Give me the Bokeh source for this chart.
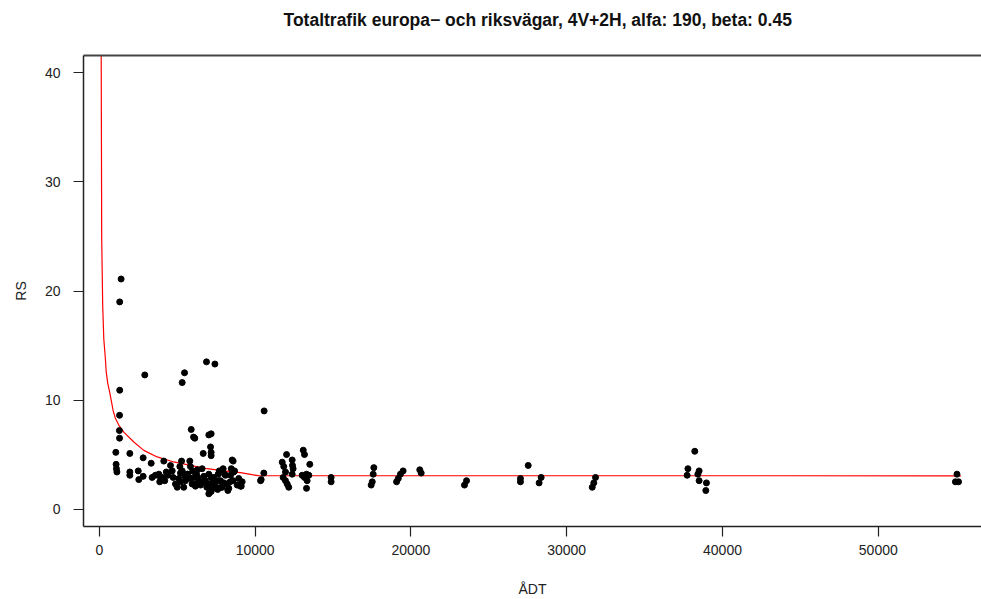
from bokeh.plotting import figure
from bokeh.models import Range1d, FixedTicker, LinearAxis, ColumnDataSource
from bokeh.embed import file_html
from bokeh.resources import INLINE

TITLE = "Totaltrafik europa\u2212 och riksvägar, 4V+2H, alfa: 190, beta: 0.45"
X_LABEL = "ÅDT"
Y_LABEL = "RS"
X_TICKS = [0, 10000, 20000, 30000, 40000, 50000]
Y_TICKS = [0, 10, 20, 30, 40]

# observed road sections (ÅDT, RS)
ADT = [1400, 1310, 1310, 1300, 1290, 1300, 1060, 1080, 1100, 1130,
       2920, 5320, 5470, 6880, 7420, 5900, 6050, 6130, 7030, 7180, 7140, 7180, 7180, 6670, 10580,
       1960, 2815, 3330, 1960, 1960, 2500, 2535, 2815, 3390, 3820, 3930, 3880, 4140, 4570, 4680, 4740, 4890, 5000, 4035,
       5280, 5810, 5170, 5210, 5100, 5210, 5420, 5850, 5680, 5850, 6240, 6320, 6170, 6600, 6710, 6820,
       7030, 7180, 7030, 7090, 7140, 7350, 7460, 7630, 7670, 7820, 7950, 8100, 8210, 8250, 8530, 8470,
       8420, 8590, 8850, 9170, 9110, 8680,
       5320, 5640, 6070, 6390, 6170, 7090, 7180, 7520, 7780, 8040, 8630, 8950, 9060, 8310, 7890, 7350,
       6710, 5960, 5530, 7030, 8590, 6500, 6900, 7250, 7600, 8000, 8400, 6000, 6300, 7700, 5500, 4300, 4400, 3600, 4200,
       10390, 10560, 10350,
       12020, 11740, 11840, 11950, 11800, 12060, 12160, 11950, 12380, 12440, 12380, 12400,
       13090, 13170, 13510, 13300, 13170, 13340, 13300, 13020, 13450,
       14880, 14880, 17620, 17580, 17520, 17450, 19500, 19330, 19190, 19080, 20570, 20660, 23570, 23440,
       27030, 27030, 27530, 28360, 28230, 31850, 31740, 31640,
       38220, 37780, 37730, 38500, 38420, 38500, 38970, 38930,
       55050, 54950, 55150]
RS = [21.1, 19.0, 10.9, 8.6, 7.2, 6.5, 5.2, 4.1, 3.7, 3.4,
      12.3, 11.6, 12.5, 13.5, 13.3, 7.3, 6.6, 6.5, 6.8, 6.9, 5.7, 5.2, 4.9, 5.1, 9.0,
      5.1, 4.7, 4.2, 3.4, 3.1, 3.5, 2.7, 3.0, 2.9, 3.2, 2.9, 2.5, 4.4, 4.0, 3.5, 2.9, 2.3, 2.0, 2.9,
      4.4, 4.4, 3.9, 3.3, 2.8, 2.5, 2.0, 3.9, 3.2, 2.8, 3.2, 2.9, 2.3, 3.7, 3.0, 2.6,
      3.2, 2.9, 2.2, 1.6, 1.9, 2.6, 2.1, 3.2, 2.6, 2.0, 3.7, 3.1, 2.3, 1.7, 4.5, 3.7,
      3.1, 2.6, 2.2, 2.5, 2.1, 3.5,
      3.5, 3.2, 2.9, 2.6, 2.1, 2.3, 1.6, 1.9, 2.6, 3.2, 3.4, 2.8, 2.1, 1.9, 2.0, 2.9,
      2.5, 2.3, 2.6, 1.4, 4.4, 2.2, 2.0, 2.4, 1.8, 2.4, 2.5, 3.5, 3.6, 3.5, 3.0, 3.4, 3.1, 3.1, 2.6,
      2.7, 3.3, 2.6,
      5.0, 4.3, 3.9, 3.4, 2.9, 2.3, 2.0, 2.6, 4.5, 3.7, 3.2, 4.0,
      5.4, 5.0, 4.1, 3.2, 2.9, 2.6, 1.9, 3.1, 3.1,
      2.9, 2.5, 3.8, 3.2, 2.5, 2.2, 3.5, 3.2, 2.8, 2.5, 3.6, 3.3, 2.6, 2.2,
      2.8, 2.5, 4.0, 2.9, 2.4, 2.9, 2.4, 2.0,
      5.3, 3.7, 3.1, 3.5, 3.2, 2.6, 2.4, 1.7,
      3.2, 2.5, 2.5]

# fitted curve
CURVE_ADT = [122, 154, 218, 289, 385, 443, 546, 655, 764, 892, 1040, 1250, 1573, 2214, 2856,
             3716, 4782, 5854, 6926, 7991, 9063, 9800, 10200, 55300]
CURVE_RS = [41.6, 24.9, 18.7, 15.6, 13.9, 12.6, 11.5, 10.8, 10.0, 9.0, 8.3, 7.7, 7.06, 6.15, 5.38,
            4.78, 4.32, 4.0, 3.7, 3.5, 3.34, 3.15, 3.06, 3.05]

FONT = "Liberation Sans"

p = figure(width=981, height=599, output_backend="svg", toolbar_location=None,
           x_range=Range1d(-1014, 56624), y_range=Range1d(-1.6, 41.6),
           min_border_left=83, min_border_right=0, min_border_top=55, min_border_bottom=72)
p.background_fill_color = "white"
p.border_fill_color = "white"
p.outline_line_color = None
p.xgrid.visible = False
p.ygrid.visible = False

p.title.text = TITLE
p.title.align = "left"
p.title.offset = 200
p.title.text_font = FONT
p.title.text_font_size = "17.5px"
p.title.text_font_style = "bold"
p.title.text_color = "#111111"
p.title.standoff = 12

for ax, ticks in ((p.xaxis[0], X_TICKS), (p.yaxis[0], Y_TICKS)):
    ax.ticker = FixedTicker(ticks=ticks)
    ax.major_tick_out = 10
    ax.major_tick_in = 0
    ax.minor_tick_out = 0
    ax.minor_tick_in = 0
    ax.axis_line_color = "#222222"
    ax.axis_line_width = 1.5
    ax.major_tick_line_color = "#222222"
    ax.major_tick_line_width = 1.2
    ax.major_label_text_font = FONT
    ax.major_label_text_font_size = "14px"
    ax.major_label_text_color = "#222222"
    ax.axis_label_text_font = FONT
    ax.axis_label_text_font_size = "14px"
    ax.axis_label_text_font_style = "normal"
    ax.axis_label_text_color = "#222222"

p.xaxis.axis_label = X_LABEL
p.yaxis.axis_label = Y_LABEL
p.xaxis.major_label_standoff = 8
p.yaxis.major_label_standoff = 13
p.xaxis.axis_label_standoff = 23
p.yaxis.axis_label_standoff = 13

# top border of the box; its blank label only reserves room above the frame
top = LinearAxis(ticker=FixedTicker(ticks=[]), major_label_text_font_size="0px",
                 major_label_standoff=0, axis_label="\u00a0",
                 axis_label_text_font_size="10px", axis_label_standoff=6,
                 major_tick_out=0, major_tick_in=0, minor_tick_out=0, minor_tick_in=0,
                 axis_line_color="#444444", axis_line_width=2)
p.add_layout(top, "above")

p.line(CURVE_ADT, CURVE_RS, line_color="#ff0000", line_width=1.2)
src = ColumnDataSource(dict(x=ADT, y=RS))
p.scatter("x", "y", source=src, size=6, fill_color="black", line_color="black")

open("out.html", "w").write(file_html(p, INLINE))
